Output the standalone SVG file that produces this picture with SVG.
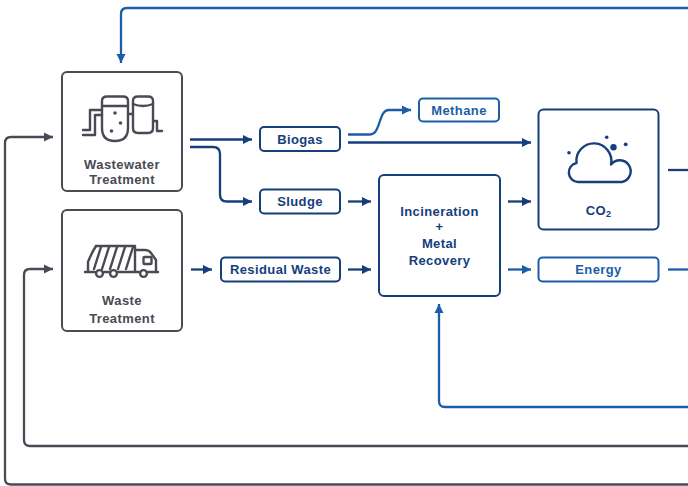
<svg xmlns="http://www.w3.org/2000/svg" width="688" height="486" viewBox="0 0 688 486">
<defs>
<style>
.bg{fill:#ffffff}
.box{fill:#ffffff;stroke-width:2}
.gbox{stroke:#4a4a54}
.nbox{stroke:#143e7c}
.bbox{stroke:#1b5ea6}
.t{font-family:"Liberation Sans",Arial,sans-serif;font-weight:bold;font-size:13px;letter-spacing:0.4px;text-anchor:middle}
.gt{fill:#4a4a54}
.nt{fill:#143e7c}
.bt{fill:#1b5ea6}
.c{fill:none;stroke-width:2.3;stroke-linejoin:round}
.cn{stroke:#143e7c}
.cb{stroke:#1b5ea6}
.cg{stroke:#4a4a54}
.icon{fill:none;stroke-width:2.4;stroke-linecap:round;stroke-linejoin:round}
</style>
<marker id="an" viewBox="0 0 10 10" refX="10" refY="5" markerWidth="9" markerHeight="10" markerUnits="userSpaceOnUse" orient="auto"><path d="M0,0 L10,5 L0,10 z" fill="#143e7c"/></marker>
<marker id="ab" viewBox="0 0 10 10" refX="10" refY="5" markerWidth="9" markerHeight="10" markerUnits="userSpaceOnUse" orient="auto"><path d="M0,0 L10,5 L0,10 z" fill="#1b5ea6"/></marker>
<marker id="ag" viewBox="0 0 10 10" refX="10" refY="5" markerWidth="9" markerHeight="10" markerUnits="userSpaceOnUse" orient="auto"><path d="M0,0 L10,5 L0,10 z" fill="#4a4a54"/></marker>
</defs>
<rect class="bg" x="0" y="0" width="688" height="486"/>

<g id="connectors">
<path class="c cb" d="M688,8 H127 Q121,8 121,14 V63" marker-end="url(#ab)"/>
<path class="c cg" d="M688,484.5 H11 Q5,484.5 5,478.5 V143 Q5,137 11,137 H53" marker-end="url(#ag)"/>
<path class="c cg" d="M688,446 H30 Q24,446 24,440 V275 Q24,269 30,269 H53" marker-end="url(#ag)"/>
<path class="c cn" d="M190,139.5 H252" marker-end="url(#an)"/>
<path class="c cn" d="M190,147 H213 Q220,147 220,154 V194.5 Q220,201.5 227,201.5 H252" marker-end="url(#an)"/>
<path class="c cb" d="M348,134.5 H370 C381,134.5 378,110 389,110 H411" marker-end="url(#ab)"/>
<path class="c cn" d="M348,142.5 H531" marker-end="url(#an)"/>
<path class="c cn" d="M348,201.5 H371" marker-end="url(#an)"/>
<path class="c cn" d="M191,269.5 H212" marker-end="url(#an)"/>
<path class="c cn" d="M348,269.5 H371" marker-end="url(#an)"/>
<path class="c cn" d="M508,201.5 H531" marker-end="url(#an)"/>
<path class="c cb" d="M508,269.5 H531" marker-end="url(#ab)"/>
<path class="c cn" d="M668,170 H688"/>
<path class="c cb" d="M668,269.5 H688"/>
<path class="c cb" d="M688,407 H445 Q439,407 439,401 V304" marker-end="url(#ab)"/>
</g>

<g id="wastewater">
<rect class="box gbox" x="62" y="72" width="120" height="119" rx="5"/>
<g class="icon" stroke="#4a4a54">
<path d="M83,130 H90 V110 H102"/>
<path d="M83,135 H95 V115 H102"/>
<path d="M102,106 V101 Q102,96.5 107,96.5 H123 Q128,96.5 128,101 V106 Z"/>
<path d="M102,106 V128 Q102,141 115,141 Q128,141 128,128 V106"/>
<path d="M128,114 H133"/>
<path d="M133,104 V101 Q133,96.5 138,96.5 H148 Q153,96.5 153,101 V104"/>
<path d="M133,104 Q143,108 153,104"/>
<path d="M133,104 V128 Q133,133 138,133 H148 Q153,133 153,128 V104"/>
<path d="M153,121 H157 V131 H162"/>
</g>
<g fill="#4a4a54">
<circle cx="115" cy="113" r="1.8"/>
<circle cx="120.5" cy="123" r="1.8"/>
<circle cx="111.5" cy="131" r="1.8"/>
</g>
<text class="t gt" x="122" y="169">Wastewater</text>
<text class="t gt" x="122" y="184">Treatment</text>
</g>

<g id="waste">
<rect class="box gbox" x="62" y="210" width="120" height="121" rx="5"/>
<g class="icon" stroke="#4a4a54">
<path d="M96,246 H135 V271"/>
<path d="M96,246 Q92,252 88,262 V271"/>
<path d="M101,247 L94,269"/>
<path d="M109,247 L102,269"/>
<path d="M117,247 L110,269"/>
<path d="M125,247 L118,269"/>
<path d="M133,247 L126,269"/>
<path d="M135,250 H145 Q149,250 151,253 L156,260 V272"/>
<rect x="143.5" y="257" width="8" height="7" rx="1"/>
<path d="M85,272 H95 M104,272 H109 M118,272 H139 M148,272 H158"/>
<circle cx="99.5" cy="273.5" r="3.4"/>
<circle cx="113.5" cy="273.5" r="3.4"/>
<circle cx="143.5" cy="273.5" r="3.4"/>
</g>
<text class="t gt" x="122" y="305">Waste</text>
<text class="t gt" x="122" y="323">Treatment</text>
</g>

<g id="biogas">
<rect class="box nbox" x="260" y="127" width="80" height="24" rx="4"/>
<text class="t nt" x="300" y="143.5">Biogas</text>
</g>

<g id="sludge">
<rect class="box nbox" x="260" y="189.5" width="80" height="24" rx="4"/>
<text class="t nt" x="300" y="206">Sludge</text>
</g>

<g id="residual">
<rect class="box nbox" x="221" y="257.5" width="119" height="24" rx="4"/>
<text class="t nt" x="280.5" y="274">Residual Waste</text>
</g>

<g id="methane">
<rect class="box bbox" x="419" y="98.5" width="80" height="23" rx="4"/>
<text class="t bt" x="459" y="114.5">Methane</text>
</g>

<g id="incineration">
<rect class="box nbox" x="379" y="175" width="121" height="121" rx="5"/>
<text class="t nt" x="439.5" y="215.5">Incineration</text>
<text class="t nt" x="439.5" y="231">+</text>
<text class="t nt" x="439.5" y="247.5">Metal</text>
<text class="t nt" x="439.5" y="264.5">Recovery</text>
</g>

<g id="co2">
<rect class="box nbox" x="538.5" y="109.5" width="120" height="120" rx="5"/>
<path class="icon" stroke="#143e7c" stroke-width="2.7" d="M622,182 H578 A9.6 9.6 0 0 1 576.5,163 A17.5 17.5 0 1 1 611,164.5 A11 11 0 1 1 622,182 Z"/>
<g fill="#143e7c">
<circle cx="569" cy="152.7" r="1.8"/>
<circle cx="606.7" cy="137.3" r="1.8"/>
<circle cx="613.5" cy="147.3" r="3.2"/>
<circle cx="625.7" cy="144.3" r="1.9"/>
</g>
<text class="t nt" x="598.5" y="215">CO<tspan font-size="9" dy="2">2</tspan></text>
</g>

<g id="energy">
<rect class="box bbox" x="538.5" y="257.5" width="120" height="24" rx="4"/>
<text class="t bt" x="598.5" y="274">Energy</text>
</g>
</svg>
